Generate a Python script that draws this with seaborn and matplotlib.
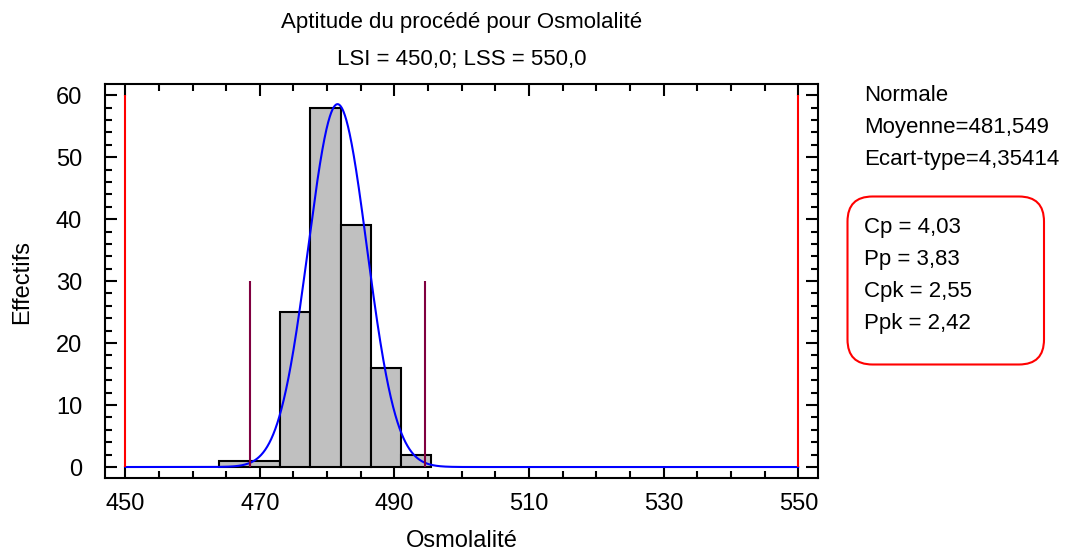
import numpy as np
import pandas as pd
import matplotlib
matplotlib.use("Agg")
import matplotlib.pyplot as plt
from matplotlib.ticker import MultipleLocator
from matplotlib.patches import FancyBboxPatch
import seaborn as sns

# ---- data ----
counts = [1, 1, 25, 58, 39, 16, 2]
bin_start = 464.0
bin_width = 4.5
mean = 481.549
sd = 4.35414
LSI = 450.0
LSS = 550.0
x_ticks = [450, 470, 490, 510, 530, 550]
y_ticks = [0, 10, 20, 30, 40, 50, 60]
title1 = "Aptitude du procédé pour Osmolalité"
title2 = "LSI = 450,0; LSS = 550,0"
stats_lines = ["Normale", "Moyenne=481,549", "Ecart-type=4,35414"]
index_lines = ["Cp = 4,03", "Pp = 3,83", "Cpk = 2,55", "Ppk = 2,42"]

sns.set_style("white")
plt.rcParams["font.family"] = ["Liberation Sans", "DejaVu Sans"]
plt.rcParams["text.color"] = "black"
plt.rcParams["axes.labelcolor"] = "black"
FS_T = 16      # titles / annotations
FS_A = 17      # tick labels / axis labels

fig = plt.figure(figsize=(10.65, 5.52), dpi=100)
ax = fig.add_axes([105 / 1065, 1 - 478.3 / 552, (818.3 - 105) / 1065, (478.3 - 84) / 552])

edges = [bin_start + bin_width * i for i in range(len(counts) + 1)]
centers = [(edges[i] + edges[i + 1]) / 2 for i in range(len(counts))]
df = pd.DataFrame({"x": centers, "w": counts})
sns.histplot(data=df, x="x", weights="w", bins=edges, color="#C0C0C0",
             edgecolor="black", linewidth=1.5, alpha=1, ax=ax, zorder=2)

N = sum(counts)
xs = np.linspace(LSI, LSS, 2001)
ys = N * bin_width * np.exp(-0.5 * ((xs - mean) / sd) ** 2) / (sd * np.sqrt(2 * np.pi))
sns.lineplot(x=xs, y=ys, color="#0000FF", linewidth=1.5, ax=ax, zorder=4)

ax.vlines([mean - 3 * sd, mean + 3 * sd], 0, 30, color="#800040", linewidth=1.5, zorder=5)
ax.vlines([LSI, LSS], 0, 60, color="#FF0000", linewidth=1.5, zorder=6)

ax.set_xlim(447.0, 552.97)
ax.set_ylim(-1.82, 61.8)
ax.set_xticks(x_ticks)
ax.set_yticks(y_ticks)
ax.xaxis.set_minor_locator(MultipleLocator(5))
ax.yaxis.set_minor_locator(MultipleLocator(2))
ax.tick_params(which="both", direction="in", top=True, right=True, bottom=True, left=True,
               width=1.5, colors="black", labelsize=FS_A)
ax.tick_params(which="major", length=8.5)
ax.tick_params(which="minor", length=5)
ax.tick_params(axis="x", which="major", pad=10.5)
ax.tick_params(axis="y", which="major", pad=16.5)
for s in ax.spines.values():
    s.set_visible(True)
    s.set_linewidth(1.5)
    s.set_color("black")
ax.set_xlabel("")
ax.set_ylabel("")
ax.grid(False)

cx = (105 + 818.3) / 2 / 1065
fig.text(cx, 1 - 28.3 / 552, title1, ha="center", va="baseline", fontsize=FS_T)
fig.text(cx, 1 - 65 / 552, title2, ha="center", va="baseline", fontsize=FS_T)
fig.text(cx, 1 - 541 / 552, "Osmolalité", ha="center", va="center", fontsize=FS_A)
fig.text(22.5 / 1065, 1 - 282 / 552, "Effectifs", ha="center", va="center", rotation=90,
         fontsize=FS_A)

for i, t in enumerate(stats_lines):
    fig.text(864 / 1065, 1 - (100.7 + 32 * i) / 552, t, ha="left", va="baseline", fontsize=FS_T)
for i, t in enumerate(index_lines):
    fig.text(864 / 1065, 1 - (233.3 + 32 * i) / 552, t, ha="left", va="baseline", fontsize=FS_T)

box = FancyBboxPatch((8.475, (552 - 364.5) / 100), 1.965, 1.68,
                     boxstyle="round,pad=0,rounding_size=0.25",
                     transform=fig.dpi_scale_trans, fill=False,
                     edgecolor="#FF0000", linewidth=1.5)
fig.patches.append(box)

fig.savefig("out.png", dpi=100)
